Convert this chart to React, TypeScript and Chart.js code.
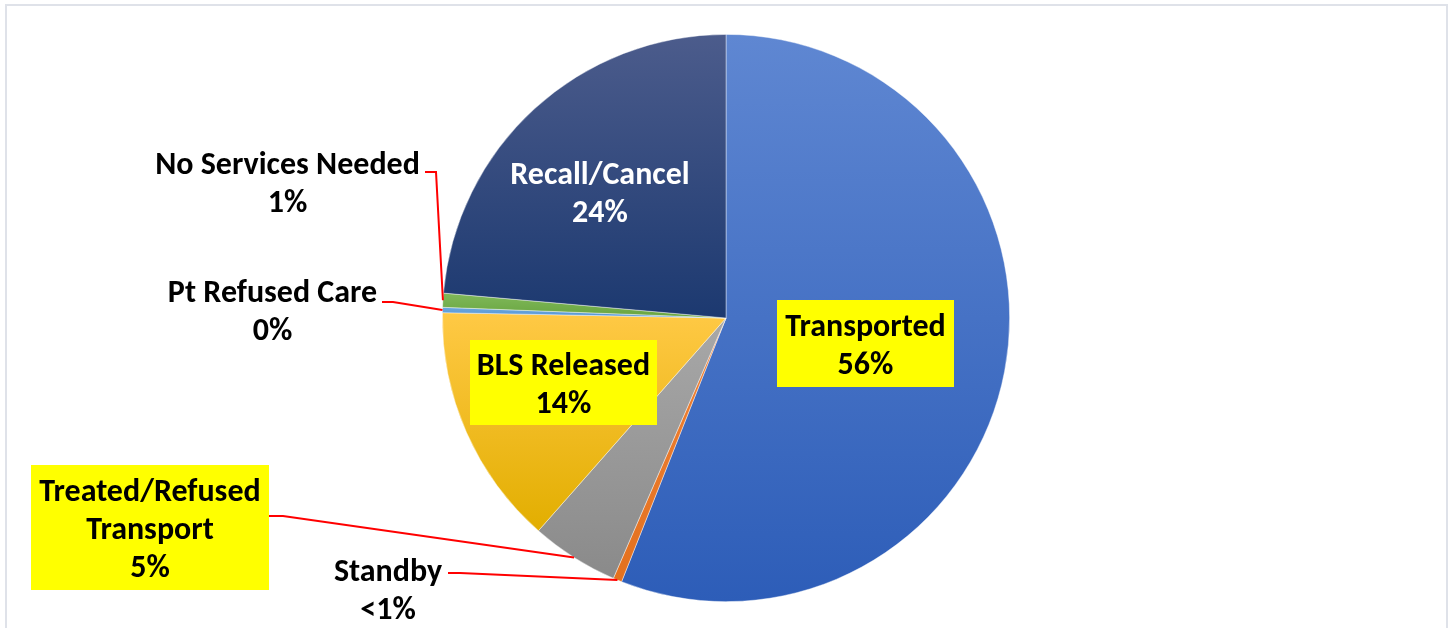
import React, { useEffect, useRef } from "react";
import { Chart, registerables } from "chart.js";

Chart.register(...registerables);

// ---------- data ----------
const categories = [
  "Transported",
  "Standby",
  "Treated/Refused Transport",
  "BLS Released",
  "Pt Refused Care",
  "No Services Needed",
  "Recall/Cancel",
];
const shares = [56.0, 0.5, 5.0, 13.8, 0.3, 0.8, 23.6];
const percentText = ["56%", "<1%", "5%", "14%", "0%", "1%", "24%"];
const nameLines = [
  ["Transported"],
  ["Standby"],
  ["Treated/Refused", "Transport"],
  ["BLS Released"],
  ["Pt Refused Care"],
  ["No Services Needed"],
  ["Recall/Cancel"],
];

// ---------- styles ----------
const sliceTop = ["#5F87D2", "#F08236", "#A8A8A8", "#FFC945", "#6AA6DE", "#80B95A", "#4C5C8C"];
const sliceBottom = ["#2D5DB8", "#E3711F", "#8A8A8A", "#E2AE00", "#5696D2", "#68A43F", "#1C3970"];
const textColor = ["#000", "#000", "#000", "#000", "#000", "#000", "#FFF"];
const highlight = [true, false, true, true, false, false, false];
// label centre offsets from pie centre, box sizes
const labelDx = [139.5, -338, -576, -162.5, -453.5, -438.5, -126];
const labelDy = [25.5, 271, 209.5, 64.5, -8, -136, -126.5];
const boxW = [177, 0, 238, 187, 0, 0, 0];
const boxH = [87, 0, 125, 85, 0, 0, 0];
// leader lines: start point offset from pie centre + horizontal stub length (null = none)
const leaderStart: (null | [number, number, number])[] = [
  null,
  [-278, 255, 12],
  [-457, 198, 14],
  null,
  [-344, -16, 11],
  [-301, -146, 11],
  null,
];

const FONT = "bold 32px Carlito, Lato, 'Open Sans', sans-serif";
const LINE_GAP = 38;

function sectorYExtent(a0: number, a1: number, cy: number, r: number) {
  let ymin = cy;
  let ymax = cy;
  const pts = [a0, a1];
  const tau = Math.PI * 2;
  for (let k = -2; k <= 2; k++) {
    const top = -Math.PI / 2 + k * tau;
    const bot = Math.PI / 2 + k * tau;
    if (top >= a0 && top <= a1) pts.push(top);
    if (bot >= a0 && bot <= a1) pts.push(bot);
  }
  for (const a of pts) {
    const y = cy + r * Math.sin(a);
    ymin = Math.min(ymin, y);
    ymax = Math.max(ymax, y);
  }
  return [ymin, ymax];
}

function sliceFill(ctx: any) {
  const chart = ctx.chart;
  const area = chart.chartArea;
  const i = ctx.dataIndex;
  if (!area || i === undefined) return sliceTop[i ?? 0];
  const cy = (area.top + area.bottom) / 2;
  const r = Math.min(area.right - area.left, area.bottom - area.top) / 2;
  const total = shares.reduce((s, v) => s + v, 0);
  let cum = 0;
  for (let k = 0; k < i; k++) cum += shares[k];
  const a0 = -Math.PI / 2 + (cum / total) * Math.PI * 2;
  const a1 = a0 + (shares[i] / total) * Math.PI * 2;
  const [y0, y1] = sectorYExtent(a0, a1, cy, r);
  const g = chart.ctx.createLinearGradient(0, y0, 0, Math.max(y1, y0 + 1));
  g.addColorStop(0, sliceTop[i]);
  g.addColorStop(1, sliceBottom[i]);
  return g;
}

const labelPlugin = {
  id: "sliceLabels",
  afterDatasetsDraw(chart: any) {
    const meta = chart.getDatasetMeta(0);
    const c = chart.ctx;
    if (!meta.data.length) return;
    const cx = meta.data[0].x;
    const cy = meta.data[0].y;
    c.save();
    // leader lines
    c.strokeStyle = "#FF0000";
    c.lineWidth = 2;
    meta.data.forEach((arc: any, i: number) => {
      const ld = leaderStart[i];
      if (!ld) return;
      const mid = (arc.startAngle + arc.endAngle) / 2;
      const ex = cx + arc.outerRadius * Math.cos(mid);
      const ey = cy + arc.outerRadius * Math.sin(mid);
      c.beginPath();
      c.moveTo(cx + ld[0], cy + ld[1]);
      c.lineTo(cx + ld[0] + ld[2], cy + ld[1]);
      c.lineTo(ex, ey);
      c.stroke();
    });
    // labels
    c.font = FONT;
    c.textAlign = "center";
    c.textBaseline = "middle";
    meta.data.forEach((_arc: any, i: number) => {
      const lx = cx + labelDx[i];
      const ly = cy + labelDy[i];
      if (highlight[i]) {
        c.fillStyle = "#FFFF00";
        c.fillRect(lx - boxW[i] / 2, ly - boxH[i] / 2, boxW[i], boxH[i]);
      }
      const lines = [...nameLines[i], percentText[i]];
      const startY = ly - ((lines.length - 1) * LINE_GAP) / 2;
      c.fillStyle = textColor[i];
      lines.forEach((t, k) => c.fillText(t, lx, startY + k * LINE_GAP + 3));
    });
    c.restore();
  },
};

export default function App() {
  const ref = useRef<HTMLCanvasElement | null>(null);
  useEffect(() => {
    if (!ref.current) return;
    const chart = new Chart(ref.current, {
      type: "pie",
      data: {
        labels: categories,
        datasets: [
          {
            data: shares,
            backgroundColor: sliceFill as any,
            borderColor: "rgba(255,255,255,0.55)",
            borderWidth: 0.75,
            hoverOffset: 0,
          },
        ],
      },
      options: {
        responsive: false,
        animation: false,
        events: [],
        layout: { padding: { top: 34, bottom: 26, left: 0, right: 0 } },
        plugins: {
          legend: { display: false },
          tooltip: { enabled: false },
          title: { display: false },
        },
      },
      plugins: [labelPlugin],
    });
    return () => chart.destroy();
  }, []);

  return (
    <div style={{ position: "fixed", left: 0, top: 0, width: 1452, height: 628, overflow: "hidden", background: "#fff" }}>
      <div
        style={{
          position: "absolute",
          left: 5,
          top: 4,
          width: 1443,
          height: 700,
          border: "2px solid #DFE2E9",
          boxSizing: "border-box",
        }}
      />
      <canvas ref={ref} width={1452} height={628} style={{ position: "absolute", left: 0, top: 0, width: 1452, height: 628 }} />
    </div>
  );
}
